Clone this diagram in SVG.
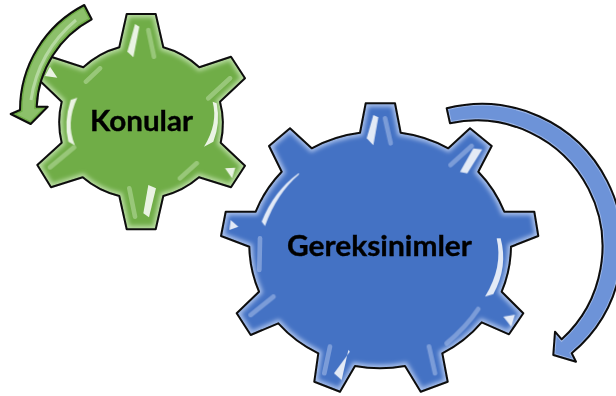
<svg xmlns="http://www.w3.org/2000/svg" width="616" height="396" viewBox="0 0 616 396">
<style>
.out{fill:none;stroke:#0a0a0a;stroke-width:2;stroke-linejoin:round}
.t{font-family:"Lato","Open Sans",sans-serif;font-weight:700;fill:#000;stroke:#000;stroke-width:.35}
.w{fill:#fff;opacity:.85}
.l{fill:none;stroke-linecap:round;stroke-width:14;opacity:.55}
.lg{stroke:#b9dca3}
.lb{stroke:#a9c0ea}
</style>
<defs>
<filter id="b3" x="-10%" y="-10%" width="120%" height="120%"><feGaussianBlur stdDeviation="2"/></filter>
<filter id="b1" x="-20%" y="-20%" width="140%" height="140%"><feGaussianBlur stdDeviation="0.7"/></filter>
<filter id="b0" x="-5%" y="-5%" width="110%" height="110%"><feGaussianBlur stdDeviation="0.4"/></filter>
<path id="gg" d="M126.7 14L155.7 14L163.3 47.3A86 84 0 0 1 199.3 67.3L231 56.7L245 78.3L220 101.7A83 84 0 0 1 220.7 142.7L245 165.7L231 187.3L199 177.3A86 84 0 0 1 163.3 196L155.7 229.3L126.7 229.3L119.3 196A86 84 0 0 1 82.7 177.3L51 187.3L37.3 165L61.7 142.7A83 84 0 0 1 61.7 101.7L37.3 78.3L51 56.7L83.3 67.3A86 84 0 0 1 119.3 47.3Z"/>
<path id="bg" d="M365.7 103.3L395 103.3L400.7 132.7A131 125 0 0 1 448.3 148.3L470 128.3L491.7 146L478.3 171.7A131 125 0 0 1 504.3 211.7L534.3 211.7L538.3 236L511 246.7A131 125 0 0 1 501.7 291.7L523.3 313.3L509 334.3L481.7 322.3A131 125 0 0 1 442.3 353.3L447.7 381.7L420.7 391.7L405 366A131 125 0 0 1 355 366L340 391.7L314.3 381.7L318.3 353.3A131 125 0 0 1 278.3 323.3L250.7 335L236.7 313.3L259 291.7A131 125 0 0 1 249.3 246.7L221 236L225.7 211.7L255.7 211.7A131 125 0 0 1 281.7 171.7L269 146L290 128.3L311.7 148.3A131 125 0 0 1 360 132.7Z"/>
<path id="ga" d="M84.3 5A118 118 0 0 0 20 110L10.7 114L30.7 124L47.7 106.7L36.7 106.7A104 104 0 0 1 91.7 19.3Z"/>
<path id="ba" d="M446.7 108.3A141 141 0 0 1 571.7 353.3L576 361.7L553.3 355L555 331.7L561.7 339.3A126 126 0 0 0 450 123.3Z"/>
<clipPath id="cgg"><use href="#gg"/></clipPath>
<clipPath id="cbg"><use href="#bg"/></clipPath>
<clipPath id="cga"><use href="#ga"/></clipPath>
<clipPath id="cba"><use href="#ba"/></clipPath>
</defs>
<g id="node-konular">
<use href="#gg" fill="#70ad47"/>
<g clip-path="url(#cgg)">
<use href="#gg" fill="none" stroke="#b9dca3" stroke-width="7" filter="url(#b3)"/>
<g transform="scale(.3333)" filter="url(#b1)">
<path class="w" d="M405 72L418 80L400 172L382 155Z"/>
<path class="w" d="M445 555L468 565L447 652L430 640Z"/>
<path class="w" d="M232 293Q196 370 225 436L205 425Q190 370 212 300Z"/>
<path class="w" d="M638 305Q655 370 612 440L640 425Q662 370 650 310Z" opacity=".7"/>
<path class="w" d="M675 505L706 503L696 535Z"/>
<path class="w" d="M135 228L172 233L150 200Z" opacity=".6"/>
<path class="l lg" d="M445 90L462 170"/>
<path class="l lg" d="M690 235L625 295"/>
<path class="l lg" d="M222 442L150 502"/>
<path class="l lg" d="M300 205L258 245"/>
<path class="l lg" d="M590 490L540 535"/>
<path class="l lg" d="M388 565L405 650"/>
</g>
</g>
<use href="#gg" class="out" filter="url(#b0)"/>
<text class="t" x="141.5" y="131" font-size="29" text-anchor="middle" textLength="103" lengthAdjust="spacingAndGlyphs">Konular</text>
</g>
<g id="node-gereksinimler">
<use href="#bg" fill="#4472c4"/>
<g clip-path="url(#cbg)">
<use href="#bg" fill="none" stroke="#a9c0ea" stroke-width="7" filter="url(#b3)"/>
<g transform="translate(210 90) scale(.3333)" filter="url(#b1)">
<path class="w" d="M490 75L505 82L490 166L470 145Z"/>
<path class="w" d="M790 175L817 178L772 250L750 246Z"/>
<path class="w" d="M265 250Q190 305 155 395L165 408Q200 310 268 252Z"/>
<path class="w" d="M860 445Q880 530 825 620L850 612Q895 530 872 445Z" opacity=".75"/>
<path class="w" d="M415 780L395 870L372 850L420 785Z"/>
<path class="w" d="M880 680L915 674L904 710Z"/>
<path class="w" d="M62 390L85 410L58 420Z" opacity=".7"/>
<path class="l lb" d="M525 85L542 160"/>
<path class="l lb" d="M785 168L722 225"/>
<path class="l lb" d="M150 445L148 540"/>
<path class="l lb" d="M190 620L122 675"/>
<path class="l lb" d="M805 657Q770 710 710 760"/>
<path class="l lb" d="M360 770L343 850"/>
<path class="l lb" d="M657 770L675 850"/>
</g>
</g>
<use href="#bg" class="out" filter="url(#b0)"/>
<text class="t" x="379.5" y="256" font-size="29" text-anchor="middle" textLength="185" lengthAdjust="spacingAndGlyphs">Gereksinimler</text>
</g>
<g id="connectors">
<g id="arrow-green">
<use href="#ga" fill="#8cc06a"/>
<g clip-path="url(#cga)"><use href="#ga" fill="none" stroke="#70ad47" stroke-width="5" filter="url(#b1)"/>
<path d="M76 20Q38 52 31 100" fill="none" stroke="#b5d9a0" stroke-width="3" filter="url(#b1)"/></g>
<use href="#ga" class="out" filter="url(#b0)"/>
</g>
<g id="arrow-blue">
<use href="#ba" fill="#6d93d8"/>
<g clip-path="url(#cba)"><use href="#ba" fill="none" stroke="#9db7e8" stroke-width="4" filter="url(#b1)"/></g>
<use href="#ba" class="out" filter="url(#b0)"/>
</g>
</g>
</svg>
